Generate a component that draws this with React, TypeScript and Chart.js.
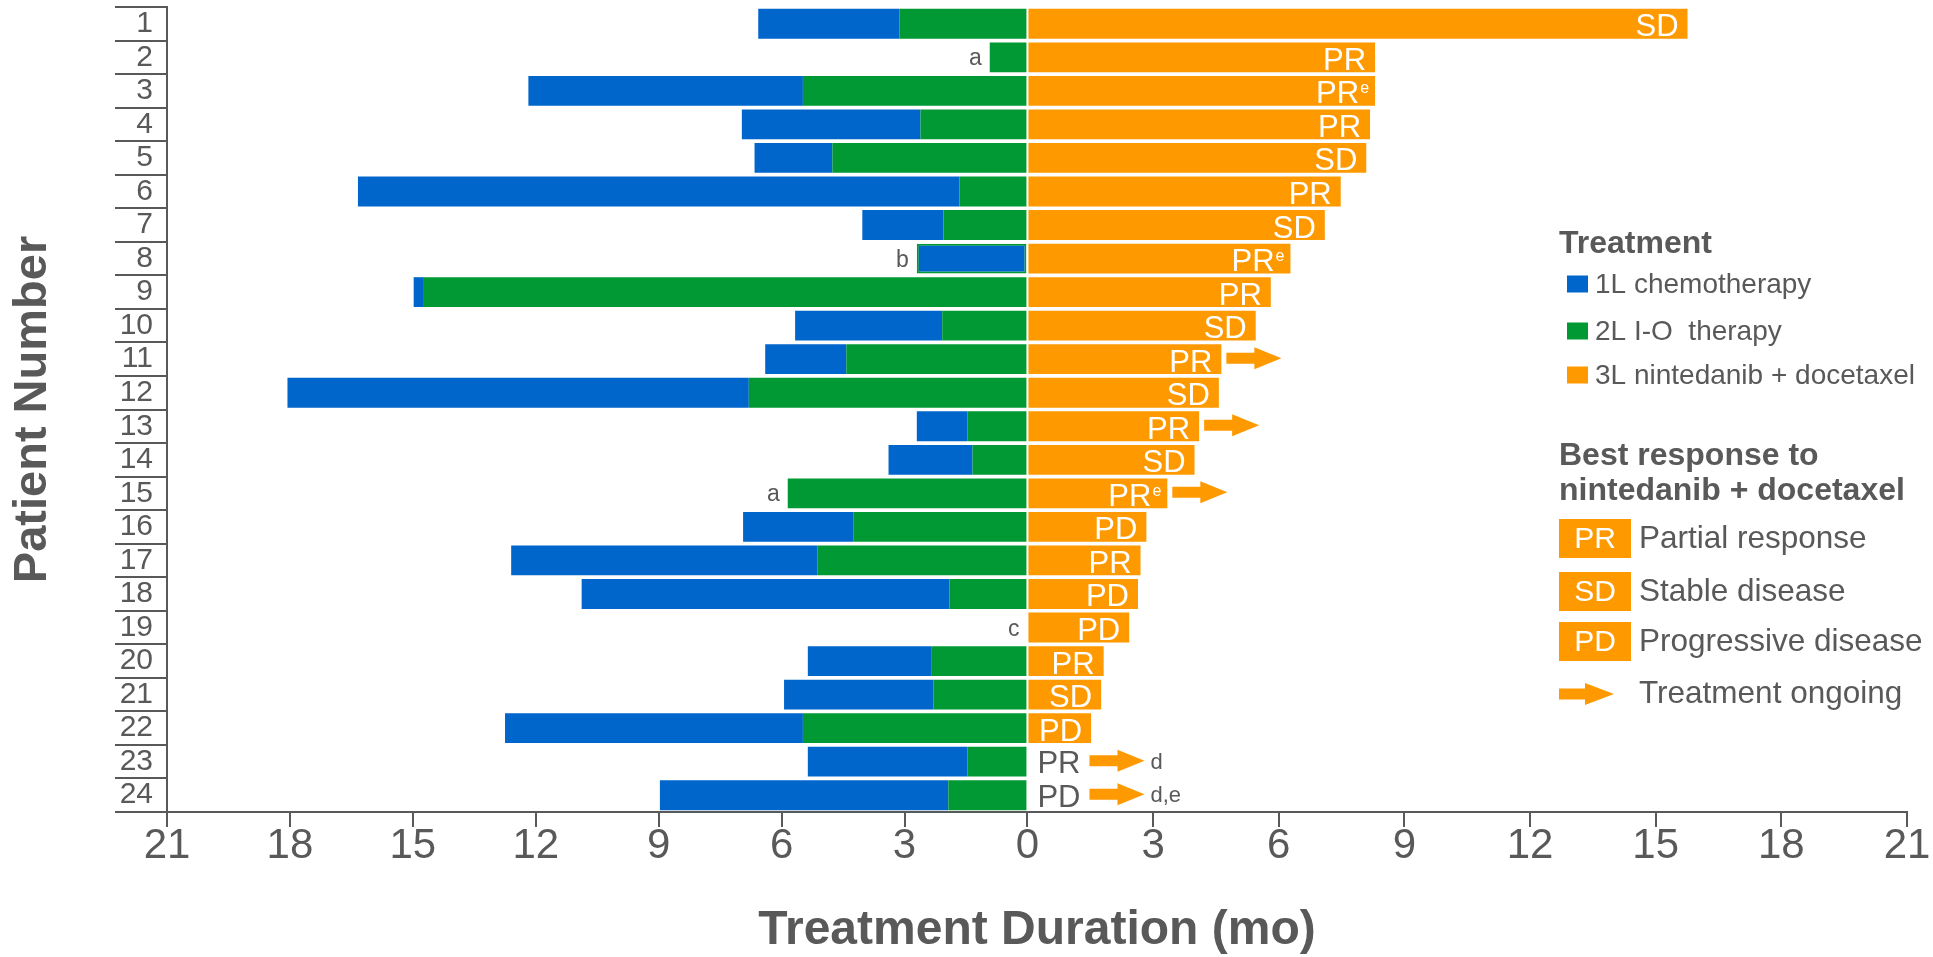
import { useEffect, useRef } from 'react';
import { Chart, registerables, LinearScale } from 'chart.js';

// ---------------- data ----------------
const patients = ['1', '2', '3', '4', '5', '6', '7', '8', '9', '10', '11', '12', '13', '14', '15', '16', '17', '18', '19', '20', '21', '22', '23', '24'];

// months of 1L chemotherapy (blue), drawn left of 0 beyond the I-O block
const chemo1L = [3.45, 0, 6.7, 4.36, 1.9, 14.68, 1.98, 2.7, 0.25, 3.59, 1.98, 11.26, 1.24, 2.05, 0, 2.7, 7.48, 8.98, 0, 3.01, 3.65, 7.27, 3.9, 7.04];
// months of 2L I-O therapy (green), drawn left of 0
const io2L = [3.12, 0.92, 5.48, 2.61, 4.76, 1.66, 2.05, 0, 14.73, 2.08, 4.42, 6.8, 1.46, 1.34, 5.85, 4.24, 5.12, 1.9, 0, 2.35, 2.29, 5.48, 1.46, 1.93];
// months of 3L nintedanib + docetaxel (orange), drawn right of 0
const nint3L = [15.76, 8.3, 8.3, 8.18, 8.09, 7.48, 7.1, 6.28, 5.81, 5.45, 4.63, 4.57, 4.1, 3.99, 3.34, 2.84, 2.7, 2.64, 2.43, 1.82, 1.76, 1.52, 0, 0];

const bestResponse = ['SD', 'PR', 'PR', 'PR', 'SD', 'PR', 'SD', 'PR', 'PR', 'SD', 'PR', 'SD', 'PR', 'SD', 'PR', 'PD', 'PR', 'PD', 'PD', 'PR', 'SD', 'PD', 'PR', 'PD'];
const responseSup = ['', '', 'e', '', '', '', '', 'e', '', '', '', '', '', '', 'e', '', '', '', '', '', '', '', '', ''];
const ongoing = [false, false, false, false, false, false, false, false, false, false, true, false, true, false, true, false, false, false, false, false, false, false, true, true];
const preNote = ['', 'a', '', '', '', '', '', 'b', '', '', '', '', '', '', 'a', '', '', '', 'c', '', '', '', '', ''];
const postNote = ['', '', '', '', '', '', '', '', '', '', '', '', '', '', '', '', '', '', '', '', '', '', 'd', 'd,e'];
const ioWithChemo = [false, false, false, false, false, false, false, true, false, false, false, false, false, false, false, false, false, false, false, false, false, false, false, false];

const xMin = -21;
const xMax = 21;
const xStep = 3;

const treatmentLegend = ['1L chemotherapy', '2L I-O  therapy', '3L nintedanib + docetaxel'];
const responseCodes = ['PR', 'SD', 'PD'];
const responseNames = ['Partial response', 'Stable disease', 'Progressive disease'];

// ---------------- style ----------------
const BLUE = '#0066CC';
const GREEN = '#009933';
const ORANGE = '#FF9900';
const GRAY = '#595959';
const FONT = '"Liberation Sans", Arial, sans-serif';
// the original axis puts 0 slightly left of the middle (left half is a bit more compressed)
const ZERO_FRACTION = 0.4945;

class SplitLinearScale extends LinearScale {
  static id = 'splitLinear';
  static defaults = LinearScale.defaults;
  getPixelForValue(value: any) {
    if (value === null || value === undefined || isNaN(value)) return NaN;
    const min = (this as any).min;
    const max = (this as any).max;
    const dec = value < 0 ? (ZERO_FRACTION * (value - min)) / (0 - min) : ZERO_FRACTION + ((1 - ZERO_FRACTION) * value) / max;
    return (this as any).getPixelForDecimal(dec);
  }
  getValueForPixel(pixel: number) {
    const min = (this as any).min;
    const max = (this as any).max;
    const dec = (this as any).getDecimalForPixel(pixel);
    return dec < ZERO_FRACTION ? min + (dec / ZERO_FRACTION) * (0 - min) : ((dec - ZERO_FRACTION) / (1 - ZERO_FRACTION)) * max;
  }
}

Chart.register(...registerables, SplitLinearScale);

function drawArrow(ctx: CanvasRenderingContext2D, x: number, y: number, len: number, headLen: number, shaftH: number, headH: number) {
  ctx.save();
  ctx.fillStyle = ORANGE;
  ctx.beginPath();
  ctx.moveTo(x, y - shaftH / 2);
  ctx.lineTo(x + len - headLen, y - shaftH / 2);
  ctx.lineTo(x + len - headLen, y - headH / 2);
  ctx.lineTo(x + len, y);
  ctx.lineTo(x + len - headLen, y + headH / 2);
  ctx.lineTo(x + len - headLen, y + shaftH / 2);
  ctx.lineTo(x, y + shaftH / 2);
  ctx.closePath();
  ctx.fill();
  ctx.restore();
}

const annotationPlugin = {
  id: 'annotations',
  afterDatasetsDraw(chart: any) {
    const ctx: CanvasRenderingContext2D = chart.ctx;
    const xs = chart.scales.x;
    const ys = chart.scales.y;
    const x0 = xs.getPixelForValue(0);
    ctx.save();
    for (let i = 0; i < patients.length; i++) {
      const yc = ys.getPixelForValue(i);
      const xEnd = xs.getPixelForValue(nint3L[i]);
      let after: number;
      if (nint3L[i] > 0) {
        ctx.fillStyle = '#FFFFFF';
        ctx.textAlign = 'right';
        ctx.textBaseline = 'alphabetic';
        const base = yc + 12.5;
        if (responseSup[i]) {
          ctx.font = `16px ${FONT}`;
          const sw = ctx.measureText(responseSup[i]).width;
          ctx.fillText(responseSup[i], xEnd - 6, base - 10);
          ctx.font = `31px ${FONT}`;
          ctx.fillText(bestResponse[i], xEnd - 6 - sw - 1, base);
        } else {
          ctx.font = `31px ${FONT}`;
          ctx.fillText(bestResponse[i], xEnd - 9, base);
        }
        after = xEnd + 5;
      } else {
        ctx.fillStyle = GRAY;
        ctx.textAlign = 'left';
        ctx.textBaseline = 'alphabetic';
        ctx.font = `31px ${FONT}`;
        ctx.fillText(bestResponse[i], x0 + 10, yc + 11.5);
        after = x0 + 10 + ctx.measureText(bestResponse[i]).width + 9;
      }
      if (ongoing[i]) {
        drawArrow(ctx, after, yc - 1, 55, 27, 11, 22);
        after += 55 + 6;
      }
      if (postNote[i]) {
        ctx.fillStyle = GRAY;
        ctx.textAlign = 'left';
        ctx.font = `22px ${FONT}`;
        ctx.fillText(postNote[i], after, yc + 7);
      }
      if (preNote[i]) {
        const left = xs.getPixelForValue(-(io2L[i] + chemo1L[i]));
        ctx.fillStyle = GRAY;
        ctx.textAlign = 'right';
        ctx.font = `23px ${FONT}`;
        ctx.fillText(preNote[i], left - 8, yc + 8);
      }
    }
    ctx.restore();
  },
  afterDraw(chart: any) {
    const ctx: CanvasRenderingContext2D = chart.ctx;
    const L = 1559;
    ctx.save();
    ctx.textBaseline = 'middle';
    ctx.textAlign = 'left';
    ctx.fillStyle = GRAY;
    ctx.font = `bold 32px ${FONT}`;
    ctx.fillText('Treatment', L, 244);
    const sw = [BLUE, GREEN, ORANGE];
    const sy = [284, 331, 375];
    for (let k = 0; k < 3; k++) {
      ctx.fillStyle = sw[k];
      ctx.fillRect(L + 8, sy[k] - 8.5, 21, 17);
      ctx.fillStyle = GRAY;
      ctx.font = `28px ${FONT}`;
      ctx.fillText(treatmentLegend[k], L + 36, sy[k] + 1);
    }
    ctx.font = `bold 32px ${FONT}`;
    ctx.fillText('Best response to', L, 456);
    ctx.fillText('nintedanib + docetaxel', L, 491);
    const by = [519, 572, 622];
    for (let k = 0; k < 3; k++) {
      ctx.fillStyle = ORANGE;
      ctx.fillRect(L, by[k], 72, 39);
      ctx.fillStyle = '#FFFFFF';
      ctx.textAlign = 'center';
      ctx.font = `30px ${FONT}`;
      ctx.fillText(responseCodes[k], L + 36, by[k] + 20.5);
      ctx.fillStyle = GRAY;
      ctx.textAlign = 'left';
      ctx.font = `31.5px ${FONT}`;
      ctx.fillText(responseNames[k], L + 80, by[k] + 20.5);
    }
    drawArrow(ctx, L, 694, 55, 29, 11, 22);
    ctx.fillStyle = GRAY;
    ctx.font = `31.5px ${FONT}`;
    ctx.fillText('Treatment ongoing', L + 80, 694);
    ctx.restore();
  },
};

export default function App() {
  const ref = useRef<HTMLCanvasElement | null>(null);
  useEffect(() => {
    if (!ref.current) return;
    const chart = new Chart(ref.current, {
      type: 'bar',
      data: {
        labels: patients,
        datasets: [
          {
            label: '2L I-O therapy',
            data: io2L.map((v) => -v),
            backgroundColor: GREEN,
            borderWidth: 0,
          },
          {
            label: '1L chemotherapy',
            data: chemo1L.map((v) => -v),
            backgroundColor: BLUE,
            borderColor: GREEN,
            borderSkipped: false,
            borderWidth: (c: any) => (ioWithChemo[c.dataIndex] ? 2 : 0),
          },
          {
            label: '3L nintedanib + docetaxel',
            data: nint3L,
            backgroundColor: ORANGE,
            borderWidth: 0,
          },
        ],
      },
      options: {
        indexAxis: 'y',
        animation: false,
        responsive: false,
        devicePixelRatio: 1,
        layout: { padding: { top: 7, right: 26, bottom: 0, left: 0 } },
        datasets: { bar: { barPercentage: 0.89, categoryPercentage: 1 } },
        plugins: { legend: { display: false }, tooltip: { enabled: false } },
        scales: {
          x: {
            type: 'splitLinear',
            stacked: true,
            min: xMin,
            max: xMax,
            ticks: {
              stepSize: xStep,
              autoSkip: false,
              maxRotation: 0,
              padding: -6,
              color: GRAY,
              font: { family: FONT, size: 42 },
              callback: (v: any) => String(Math.abs(Number(v))),
            },
            grid: { drawOnChartArea: false, tickLength: 15, color: GRAY, lineWidth: 2 },
            border: { display: true, color: GRAY, width: 2 },
            title: {
              display: true,
              text: 'Treatment Duration (mo)',
              color: GRAY,
              font: { family: FONT, size: 48, weight: 'bold', lineHeight: 1.1 },
              padding: { top: 0, bottom: 0 },
            },
            afterFit: (s: any) => {
              s.height = 145;
            },
          },
          y: {
            type: 'category',
            stacked: true,
            offset: true,
            ticks: {
              padding: -38,
              color: GRAY,
              font: { family: FONT, size: 30 },
              autoSkip: false,
            },
            grid: { offset: true, drawOnChartArea: false, tickLength: 52, color: GRAY, lineWidth: 2 },
            border: { display: true, color: GRAY, width: 2 },
            title: {
              display: true,
              text: 'Patient Number',
              color: GRAY,
              font: { family: FONT, size: 47, weight: 'bold', lineHeight: 1.2 },
              padding: { top: 5, bottom: 0 },
            },
            afterFit: (s: any) => {
              s.width = 167;
            },
          },
        },
      } as any,
      plugins: [annotationPlugin],
    });
    return () => chart.destroy();
  }, []);
  return (
    <div style={{ position: 'fixed', left: 0, top: 0, width: 1933, height: 957, background: '#FFFFFF' }}>
      <canvas ref={ref} width={1933} height={957} />
    </div>
  );
}
